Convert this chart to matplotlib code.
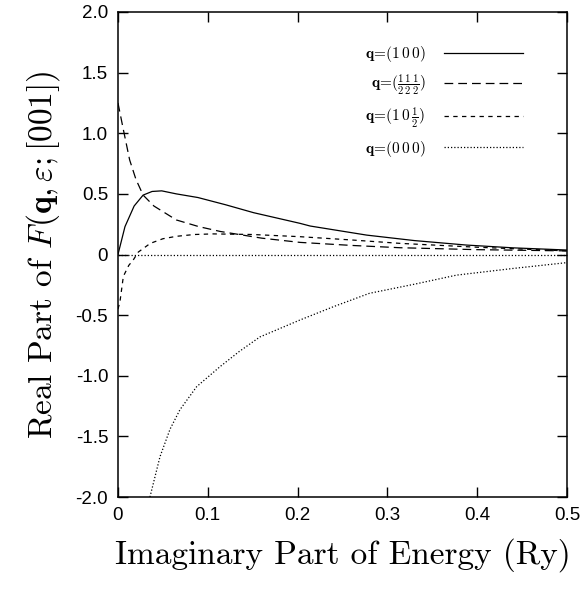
import numpy as np
import matplotlib
matplotlib.use('Agg')
import matplotlib.pyplot as plt

plt.rcParams['mathtext.fontset'] = 'cm'

# q=(100)
x_100 = [0.0, 0.0078, 0.018, 0.028, 0.038, 0.0487, 0.065, 0.089, 0.12, 0.151, 0.2027, 0.214, 0.277, 0.33, 0.388, 0.44, 0.5]
y_100 = [0.0, 0.23, 0.40, 0.49, 0.52, 0.525, 0.50, 0.47, 0.41, 0.345, 0.257, 0.235, 0.16, 0.115, 0.078, 0.055, 0.037]

# q=(1/2 1/2 1/2)
x_hhh = [0.0, 0.006, 0.013, 0.02, 0.028, 0.04, 0.065, 0.09, 0.114, 0.16, 0.2027, 0.26, 0.314, 0.4, 0.5]
y_hhh = [1.25, 1.03, 0.78, 0.62, 0.49, 0.40, 0.285, 0.23, 0.19, 0.135, 0.10, 0.075, 0.056, 0.04, 0.03]

# q=(1 0 1/2)
x_10h = [0.0, 0.0022, 0.006, 0.012, 0.017, 0.0226, 0.036, 0.05, 0.065, 0.085, 0.106, 0.15, 0.2027, 0.26, 0.314, 0.4, 0.5]
y_10h = [-0.45, -0.39, -0.18, -0.09, -0.045, 0.02, 0.092, 0.13, 0.15, 0.165, 0.17, 0.165, 0.147, 0.12, 0.092, 0.06, 0.03]

# q=(000)
x_000 = [0.0356, 0.0468, 0.058, 0.069, 0.0876, 0.1136, 0.135, 0.158, 0.2027, 0.24, 0.28, 0.33, 0.377, 0.44, 0.4997]
y_000 = [-2.0, -1.667, -1.44, -1.28, -1.09, -0.925, -0.80, -0.68, -0.54, -0.43, -0.32, -0.245, -0.17, -0.115, -0.067]

xticks = [0, 0.1, 0.2, 0.3, 0.4, 0.5]
xlabels = ['0', '0.1', '0.2', '0.3', '0.4', '0.5']
yticks = [-2.0, -1.5, -1.0, -0.5, 0, 0.5, 1.0, 1.5, 2.0]
ylabels = ['-2.0', '-1.5', '-1.0', '-0.5', '0', '0.5', '1.0', '1.5', '2.0']

fig = plt.figure(figsize=(5.82, 5.91), dpi=100)
ax = fig.add_axes([0.2027, 0.159, 0.7715, 0.8207])

ax.plot(x_100, y_100, color='black', linewidth=0.9, label=r'$\mathbf{q}\!=\!(1\,0\,0)$')
ax.plot(x_hhh, y_hhh, color='black', linewidth=0.9, dashes=(7, 4),
        label=r'$\mathbf{q}\!=\!(\frac{1}{2}\frac{1}{2}\frac{1}{2})$')
ax.plot(x_10h, y_10h, color='black', linewidth=0.9, dashes=(3.5, 3.5),
        label=r'$\mathbf{q}\!=\!(1\,0\,\frac{1}{2})$')
ax.plot(x_000, y_000, color='black', linewidth=0.9, dashes=(1, 1.6),
        label=r'$\mathbf{q}\!=\!(0\,0\,0)$')
ax.axhline(0, color='black', linewidth=0.9, dashes=(1, 1.6))

ax.set_xlim(0, 0.5)
ax.set_ylim(-2.0, 2.0)
ax.set_xticks(xticks)
ax.set_xticklabels(xlabels)
ax.set_yticks(yticks)
ax.set_yticklabels(ylabels)
for lab in ax.get_xticklabels() + ax.get_yticklabels():
    lab.set_family('Liberation Sans')
ax.tick_params(direction='in', length=7, width=1, top=True, right=True, labelsize=13.5, pad=7)
for sp in ax.spines.values():
    sp.set_linewidth(1.1)

ax.set_xlabel('Imaginary Part of Energy (Ry)', family='cmr10', fontsize=24, labelpad=10)
ax.set_ylabel(r'Real Part of $F(\mathbf{q},\varepsilon;[001])$', family='cmr10', fontsize=24, labelpad=10)

ax.legend(loc='upper right', frameon=False, markerfirst=False, fontsize=11,
          handlelength=5.2, handletextpad=1.2, labelspacing=0.55, borderpad=0,
          bbox_to_anchor=(0.92, 0.95))

fig.savefig('out.png', dpi=100)
